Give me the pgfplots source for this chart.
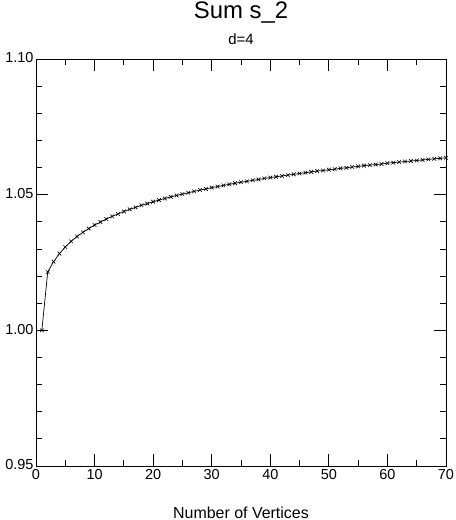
\documentclass[border=0pt]{standalone}
\usepackage{fontspec}
\setmainfont{Liberation Sans}
\usepackage{pgfplots}
\pgfplotsset{compat=1.18}
\begin{document}
\begin{tikzpicture}
\begin{axis}[
 scale only axis, width=410bp, height=407bp,
 xmin=0, xmax=70, ymin=0.95, ymax=1.10,
 xtick={0,10,...,70}, minor x tick num=1,
 ytick={0.95,1.00,1.05,1.10}, minor y tick num=4,
 tick align=inside, major tick length=12bp, minor tick length=6bp,
 tick style={black, line width=0.8bp},
 axis line style={line width=0.8bp},
 /pgf/number format/assume math mode=true,
 ticklabel style={font=\fontsize{14.5}{16}\selectfont},
 yticklabel style={/pgf/number format/fixed, /pgf/number format/fixed zerofill, /pgf/number format/precision=2, xshift=1bp, yshift=1bp},
 xticklabel style={/pgf/number format/fixed, /pgf/number format/precision=0, yshift=0bp},
 clip=false,
]
\addplot[black, line width=0.7bp, mark=x, mark size=2.6bp, mark options={line width=0.6bp}] coordinates {
(1,1.0000) (2,1.0215) (3,1.0253) (4,1.0283) (5,1.0307) (6,1.0328) (7,1.0346) (8,1.0361) (9,1.0375) (10,1.0388)
(11,1.0399) (12,1.0410) (13,1.0420) (14,1.0429) (15,1.0438) (16,1.0446) (17,1.0453) (18,1.0461) (19,1.0467) (20,1.0474)
(21,1.0480) (22,1.0486) (23,1.0492) (24,1.0497) (25,1.0502) (26,1.0507) (27,1.0512) (28,1.0517) (29,1.0521) (30,1.0526)
(31,1.0530) (32,1.0534) (33,1.0538) (34,1.0542) (35,1.0546) (36,1.0549) (37,1.0553) (38,1.0556) (39,1.0560) (40,1.0563)
(41,1.0566) (42,1.0569) (43,1.0572) (44,1.0575) (45,1.0578) (46,1.0581) (47,1.0584) (48,1.0587) (49,1.0589) (50,1.0592)
(51,1.0594) (52,1.0597) (53,1.0599) (54,1.0602) (55,1.0604) (56,1.0607) (57,1.0609) (58,1.0611) (59,1.0613) (60,1.0616)
(61,1.0618) (62,1.0620) (63,1.0622) (64,1.0624) (65,1.0626) (66,1.0628) (67,1.0630) (68,1.0632) (69,1.0634) (70,1.0636)
};
\coordinate (bl) at (rel axis cs:0,0);
\coordinate (tr) at (rel axis cs:1,1);
\coordinate (tc) at (rel axis cs:0.5,1);
\coordinate (bc) at (rel axis cs:0.5,0);
\end{axis}
\node[anchor=base, font=\fontsize{24}{28}\selectfont, inner sep=0pt] at ([yshift=40bp]tc) {Sum s\_2};
\node[anchor=base, font=\fontsize{15}{17}\selectfont, inner sep=0pt] at ([yshift=14bp]tc) {d=4};
\node[anchor=base, font=\fontsize{16}{18}\selectfont, inner sep=0pt] at ([yshift=-52bp]bc) {Number of Vertices};
\pgfresetboundingbox
\path ([xshift=-36bp,yshift=-54bp]bl) rectangle ([xshift=10bp,yshift=59bp]tr);
\end{tikzpicture}
\end{document}
